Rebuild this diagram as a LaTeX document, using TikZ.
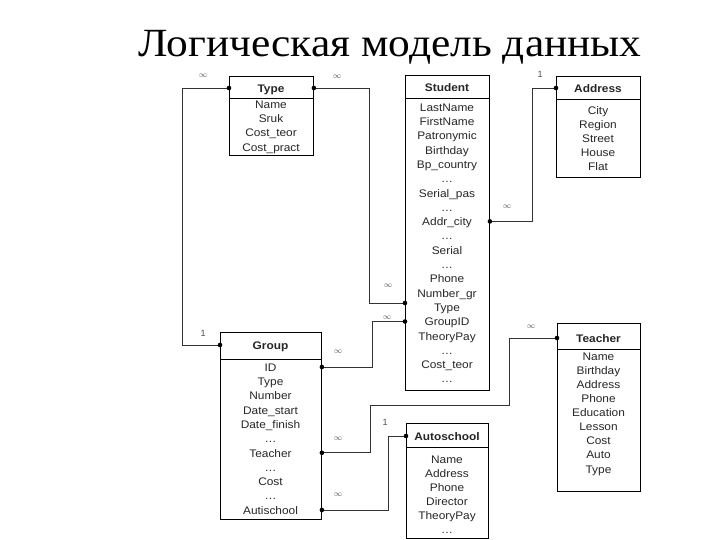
\documentclass[tikz,border=0pt]{standalone}
\usepackage{fontspec}
\usepackage{graphicx}
\setmainfont{Liberation Sans}
\newfontfamily\titlefont{Liberation Serif}
\usetikzlibrary{calc}
\newcommand\dts{\ldots}
\newcommand\sx[1]{\scalebox{1.08}[1]{#1}}
\tikzset{
  tbl/.style={draw=black, line width=0.9pt, inner sep=0pt, anchor=north west},
  hdr/.style={font=\fontsize{11}{11}\selectfont\bfseries, inner sep=0pt, text=black!85, text height=9.5pt, text depth=1pt},
  field/.style={font=\fontsize{11}{11}\selectfont, inner sep=0pt, text=black!85, text height=9.5pt, text depth=1pt},
  divider/.style={line width=0.9pt},
  conn/.style={line width=0.9pt, draw=black!80},
  dot/.style={circle, fill=black, inner sep=0pt, minimum size=4.6pt},
  lbl/.style={font=\fontsize{9}{9}\selectfont, inner sep=0pt, text=black!70},
  inf/.style={font=\fontsize{8}{8}\selectfont, inner sep=0pt, text=black!70}
}
\begin{document}
\begin{tikzpicture}[x=1pt, y=-1pt]
\useasboundingbox (0,0) rectangle (720,540);
% title
\node[font=\titlefont\fontsize{40}{40}\selectfont, anchor=base, inner sep=0pt] (title) at (390,57) {\scalebox{1.085}[1]{Логическая модель данных}};

% Type
\node[tbl, minimum width=84pt, minimum height=79pt] (type) at (229,76) {};
\node[hdr] (type-h) at (271,88) {\sx{Type}};
\draw[divider] (type.west |- 0,98) -- (type.east |- 0,98);
\foreach \t [count=\i from 0] in {Name,Sruk,Cost\_teor,Cost\_pract}
  \node[field] (type-\i) at (271,104+14.3*\i) {\sx{\t}};

% Student
\node[tbl, minimum width=84pt, minimum height=315pt] (student) at (405,75) {};
\node[hdr] (stu-h) at (447,87) {\sx{Student}};
\draw[divider] (student.west |- 0,98) -- (student.east |- 0,98);
\foreach \t [count=\i from 0] in {LastName,FirstName,Patronymic,Birthday,Bp\_country,\dts,Serial\_pas,\dts,Addr\_city,\dts,Serial,\dts,Phone,Number\_gr,Type,GroupID,TheoryPay,\dts,Cost\_teor,\dts}
  \node[field] (stu-\i) at (447,107+14.3*\i) {\sx{\t}};

% Address
\node[tbl, minimum width=84pt, minimum height=101pt] (address) at (556,76) {};
\node[hdr] (addr-h) at (598,88) {\sx{Address}};
\draw[divider] (address.west |- 0,99) -- (address.east |- 0,99);
\foreach \t [count=\i from 0] in {City,Region,Street,House,Flat}
  \node[field] (addr-\i) at (598,110+14*\i) {\sx{\t}};

% Group
\node[tbl, minimum width=101pt, minimum height=187pt] (group) at (220,332) {};
\node[hdr] (grp-h) at (270.5,345) {\sx{Group}};
\draw[divider] (group.west |- 0,359) -- (group.east |- 0,359);
\foreach \t [count=\i from 0] in {ID,Type,Number,Date\_start,Date\_finish,\dts,Teacher,\dts,Cost,\dts,Autischool}
  \node[field] (grp-\i) at (270.5,367+14.3*\i) {\sx{\t}};

% Teacher
\node[tbl, minimum width=83pt, minimum height=168pt] (teacher) at (557,323) {};
\node[hdr] (tch-h) at (598.5,338) {\sx{Teacher}};
\draw[divider] (teacher.west |- 0,349) -- (teacher.east |- 0,349);
\foreach \t [count=\i from 0] in {Name,Birthday,Address,Phone,Education,Lesson,Cost,Auto,Type}
  \node[field] (tch-\i) at (598.5,356+14.1*\i) {\sx{\t}};

% Autoschool
\node[tbl, minimum width=82pt, minimum height=115pt] (autoschool) at (406,423) {};
\node[hdr] (aut-h) at (447,436) {\sx{Autoschool}};
\draw[divider] (autoschool.west |- 0,447) -- (autoschool.east |- 0,447);
\foreach \t [count=\i from 0] in {Name,Address,Phone,Director,TheoryPay,\dts}
  \node[field] (aut-\i) at (447,459+14*\i) {\sx{\t}};

% connectors
% Type -> Group
\draw[conn] (type.west |- type-h) -- ++(-47,0) |- (group.west |- grp-h);
\node[dot] at (type.west |- type-h) {};
\node[dot] at (group.west |- grp-h) {};
\node[inf] at (203,76) {$\infty$};
\node[lbl] at (203,333) {1};

% Type -> Student
\draw[conn] (type.east |- type-h) -- ++(56,0) |- (student.west |- 0,303);
\node[dot] at (type.east |- type-h) {};
\node[dot] at (student.west |- 0,303) {};
\node[inf] at (337,77) {$\infty$};
\node[inf] at (388,286) {$\infty$};

% Student GroupID -> Group ID
\draw[conn] (student.west |- stu-15) -- ++(-33,0) |- (group.east |- grp-0);
\node[dot] at (student.west |- stu-15) {};
\node[dot] at (group.east |- grp-0) {};
\node[inf] at (387,318) {$\infty$};
\node[inf] at (338,352) {$\infty$};

% Student Addr_city -> Address
\draw[conn] (student.east |- stu-8) -- ++(43,0) |- (address.west |- addr-h);
\node[dot] at (student.east |- stu-8) {};
\node[dot] at (address.west |- addr-h) {};
\node[inf] at (507,207) {$\infty$};
\node[lbl] at (540,74) {1};

% Teacher -> Group Teacher
\draw[conn] (teacher.west |- tch-h) -- ++(-48,0) -- ++(0,67) -- ++(-139,0) |- (group.east |- grp-6);
\node[dot] at (teacher.west |- tch-h) {};
\node[dot] at (group.east |- grp-6) {};
\node[inf] at (531,327) {$\infty$};
\node[inf] at (338,439) {$\infty$};

% Autoschool -> Group Autischool
\draw[conn] (autoschool.west |- aut-h) -- ++(-18,0) |- (group.east |- grp-10);
\node[dot] at (autoschool.west |- aut-h) {};
\node[dot] at (group.east |- grp-10) {};
\node[lbl] at (385,422) {1};
\node[inf] at (338,495) {$\infty$};
\end{tikzpicture}
\end{document}
